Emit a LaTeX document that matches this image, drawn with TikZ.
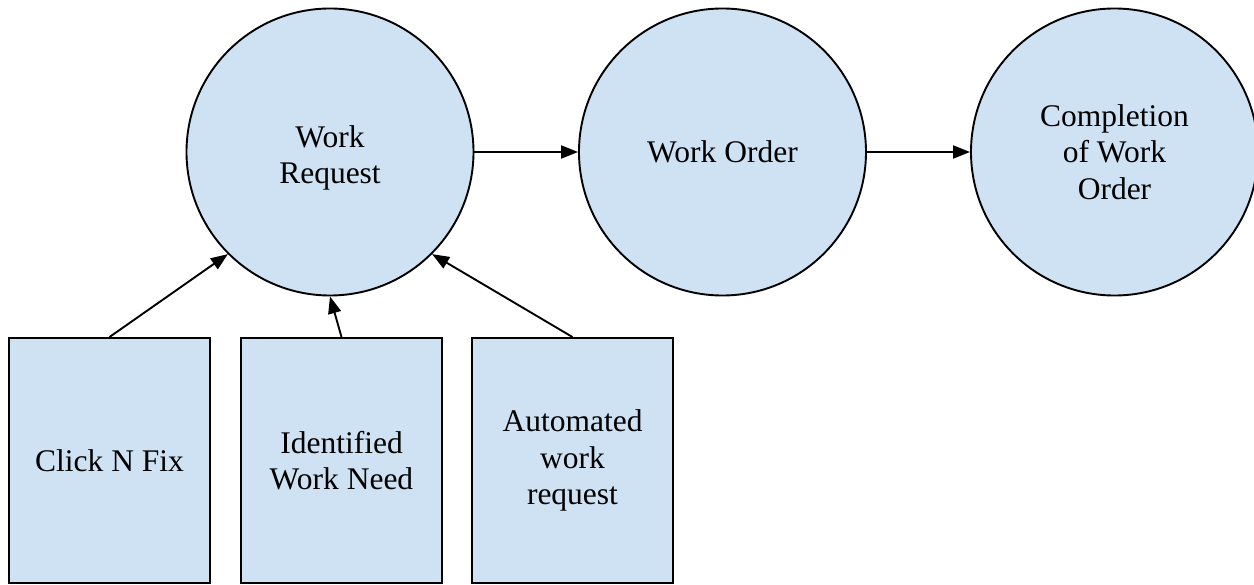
\documentclass[tikz,border=0pt]{standalone}
\usepackage{fontspec}
\setmainfont{Liberation Serif}
\usetikzlibrary{arrows.meta}
\definecolor{boxfill}{RGB}{207,226,243}
\tikzset{
  stage/.style={circle, draw=black, line width=1.9pt, fill=boxfill,
    minimum size=287pt, inner sep=0pt, align=center,
    font=\fontsize{31.5}{36.3}\selectfont},
  source/.style={rectangle, draw=black, line width=1.9pt, fill=boxfill,
    minimum width=201pt, minimum height=245pt, inner sep=0pt, align=center,
    font=\fontsize{31.5}{36.3}\selectfont},
  flow/.style={line width=1.9pt, -{Triangle[length=17pt,width=13pt]}}
}
\begin{document}
\begin{tikzpicture}[x=1pt, y=-1pt]
  \useasboundingbox (0,0) rectangle (1254,585);
  \clip (0,0) rectangle (1254,585);
  % stages of the work cycle
  \node[stage] (wr) at (330,152) {};
  \node[align=center, font=\fontsize{31.5}{36.3}\selectfont] (wrtext) at (330,158) {Work\\Request};
  \node[stage] (wo) at (722.5,152) {Work Order};
  \node[stage] (cw) at (1114.5,152) {Completion\\of Work\\Order};
  % sources of work requests
  \node[source] (cnf) at (109.5,460.5) {Click N Fix};
  \node[source] (iwn) at (341.5,460.5) {Identified\\Work Need};
  \node[source] (awr) at (572.5,460.5) {Automated\\work\\request};
  % connectors
  \draw[flow] (wr) -- (wo);
  \draw[flow] (wo) -- (cw);
  \draw[flow] (cnf.north) -- (wr.225);
  \draw[flow] (iwn.north) -- (wr.270);
  \draw[flow] (awr.north) -- (wr.315);
\end{tikzpicture}
\end{document}
